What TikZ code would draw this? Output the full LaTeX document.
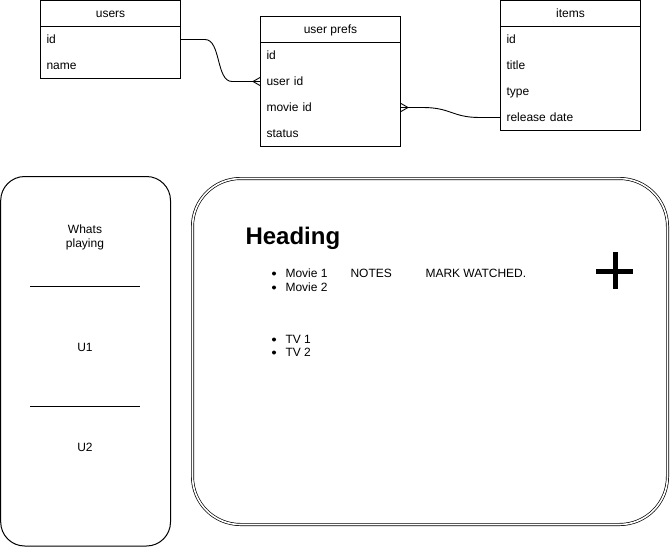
\documentclass[tikz,border=0pt]{standalone}
\usepackage{fontspec}
\setmainfont{Liberation Sans}
\usetikzlibrary{calc}
\begin{document}
\begin{tikzpicture}[x=1pt,y=-1pt,line width=1pt,
  txt/.style={font=\fontsize{12}{14}\selectfont},
  hdr/.style={txt,draw,minimum width=140pt,minimum height=26pt,inner sep=0pt,text height=10pt,text depth=2pt,anchor=north west},
  tbody/.style={draw,minimum width=140pt,inner sep=0pt,anchor=north west},
  row/.style={txt,minimum width=140pt,minimum height=26pt,inner sep=0pt,text width=128pt,align=left,text height=9.5pt,text depth=2.5pt,anchor=north west},
  link/.style={line width=0.9pt},
  lbl/.style={txt,inner sep=0pt,anchor=west},
  ctr/.style={txt,inner sep=0pt,align=center},
  bul/.style={fill=black}
]
\useasboundingbox (0,0) rectangle (671,547);

% users table
\node[hdr] (users) at (40,0) {users};
\node[tbody,minimum height=52pt] (usersb) at (40,26) {};
\node[row] (u-id) at (40,26) {id};
\node[row] (u-name) at (40,52) {name};

% user prefs table
\node[hdr] (prefs) at (260,16) {user prefs};
\node[tbody,minimum height=104pt] (prefsb) at (260,42) {};
\node[row] (p-id) at (260,42) {id};
\node[row] (p-uid) at (260,68) {user id};
\node[row] (p-mid) at (260,94) {movie id};
\node[row] (p-status) at (260,120) {status};

% items table
\node[hdr] (items) at (500,0) {items};
\node[tbody,minimum height=104pt] (itemsb) at (500,26) {};
\node[row] (i-id) at (500,26) {id};
\node[row] (i-title) at (500,52) {title};
\node[row] (i-type) at (500,78) {type};
\node[row] (i-rd) at (500,104) {release date};

% connectors
\draw[link] (u-id.east) -- ++(24,0) .. controls +(16,0) and +(-16,0) .. ($(p-uid.west)+(-28,0)$) -- (p-uid.west);
\draw[link] ($(p-uid.west)+(0,-4)$) -- ($(p-uid.west)+(-7,0)$) -- ($(p-uid.west)+(0,4)$);
\draw[link] (p-mid.east) -- ++(22,0) .. controls +(28,0) and +(-28,0) .. ($(i-rd.west)+(-20,0)$) -- (i-rd.west);
\draw[link] ($(p-mid.east)+(0,-4)$) -- ($(p-mid.east)+(7,0)$) -- ($(p-mid.east)+(0,4)$);

% left panel
\draw[rounded corners=24pt] (0.7,176.5) rectangle (170.5,546);
\node[ctr] (whats) at (85,237) {Whats\\playing};
\coordinate (s1a) at (30,286); \coordinate (s1b) at (140,286);
\coordinate (s2a) at (30,406); \coordinate (s2b) at (140,406);
\draw (s1a) -- (s1b);
\draw (s2a) -- (s2b);
\node[ctr] (u1) at (85,347) {U1};
\node[ctr] (u2) at (85,447) {U2};

% main panel
\draw[double,double distance=1.6pt,line width=0.7pt,rounded corners=48pt] (192.5,178.5) rectangle (667.5,524.5);
\node[inner sep=0pt,anchor=west,font=\fontsize{24}{28}\selectfont\bfseries] (heading) at (245,238) {Heading};
\fill[bul] (274,273.5) circle (2pt);
\fill[bul] (274,287.5) circle (2pt);
\fill[bul] (274,339.5) circle (2pt);
\fill[bul] (274,352.5) circle (2pt);
\node[lbl] (m1) at (285,273) {Movie 1};
\node[lbl] (notes) at (350,273) {NOTES};
\node[lbl] (mark) at (425,273) {MARK WATCHED.};
\node[lbl] (m2) at (285,287) {Movie 2};
\node[lbl] (tv1) at (285,339) {TV 1};
\node[lbl] (tv2) at (285,352) {TV 2};

% plus
\fill (612.5,252) rectangle (617.5,289);
\fill (596,268.5) rectangle (633,273.5);
\end{tikzpicture}
\end{document}
